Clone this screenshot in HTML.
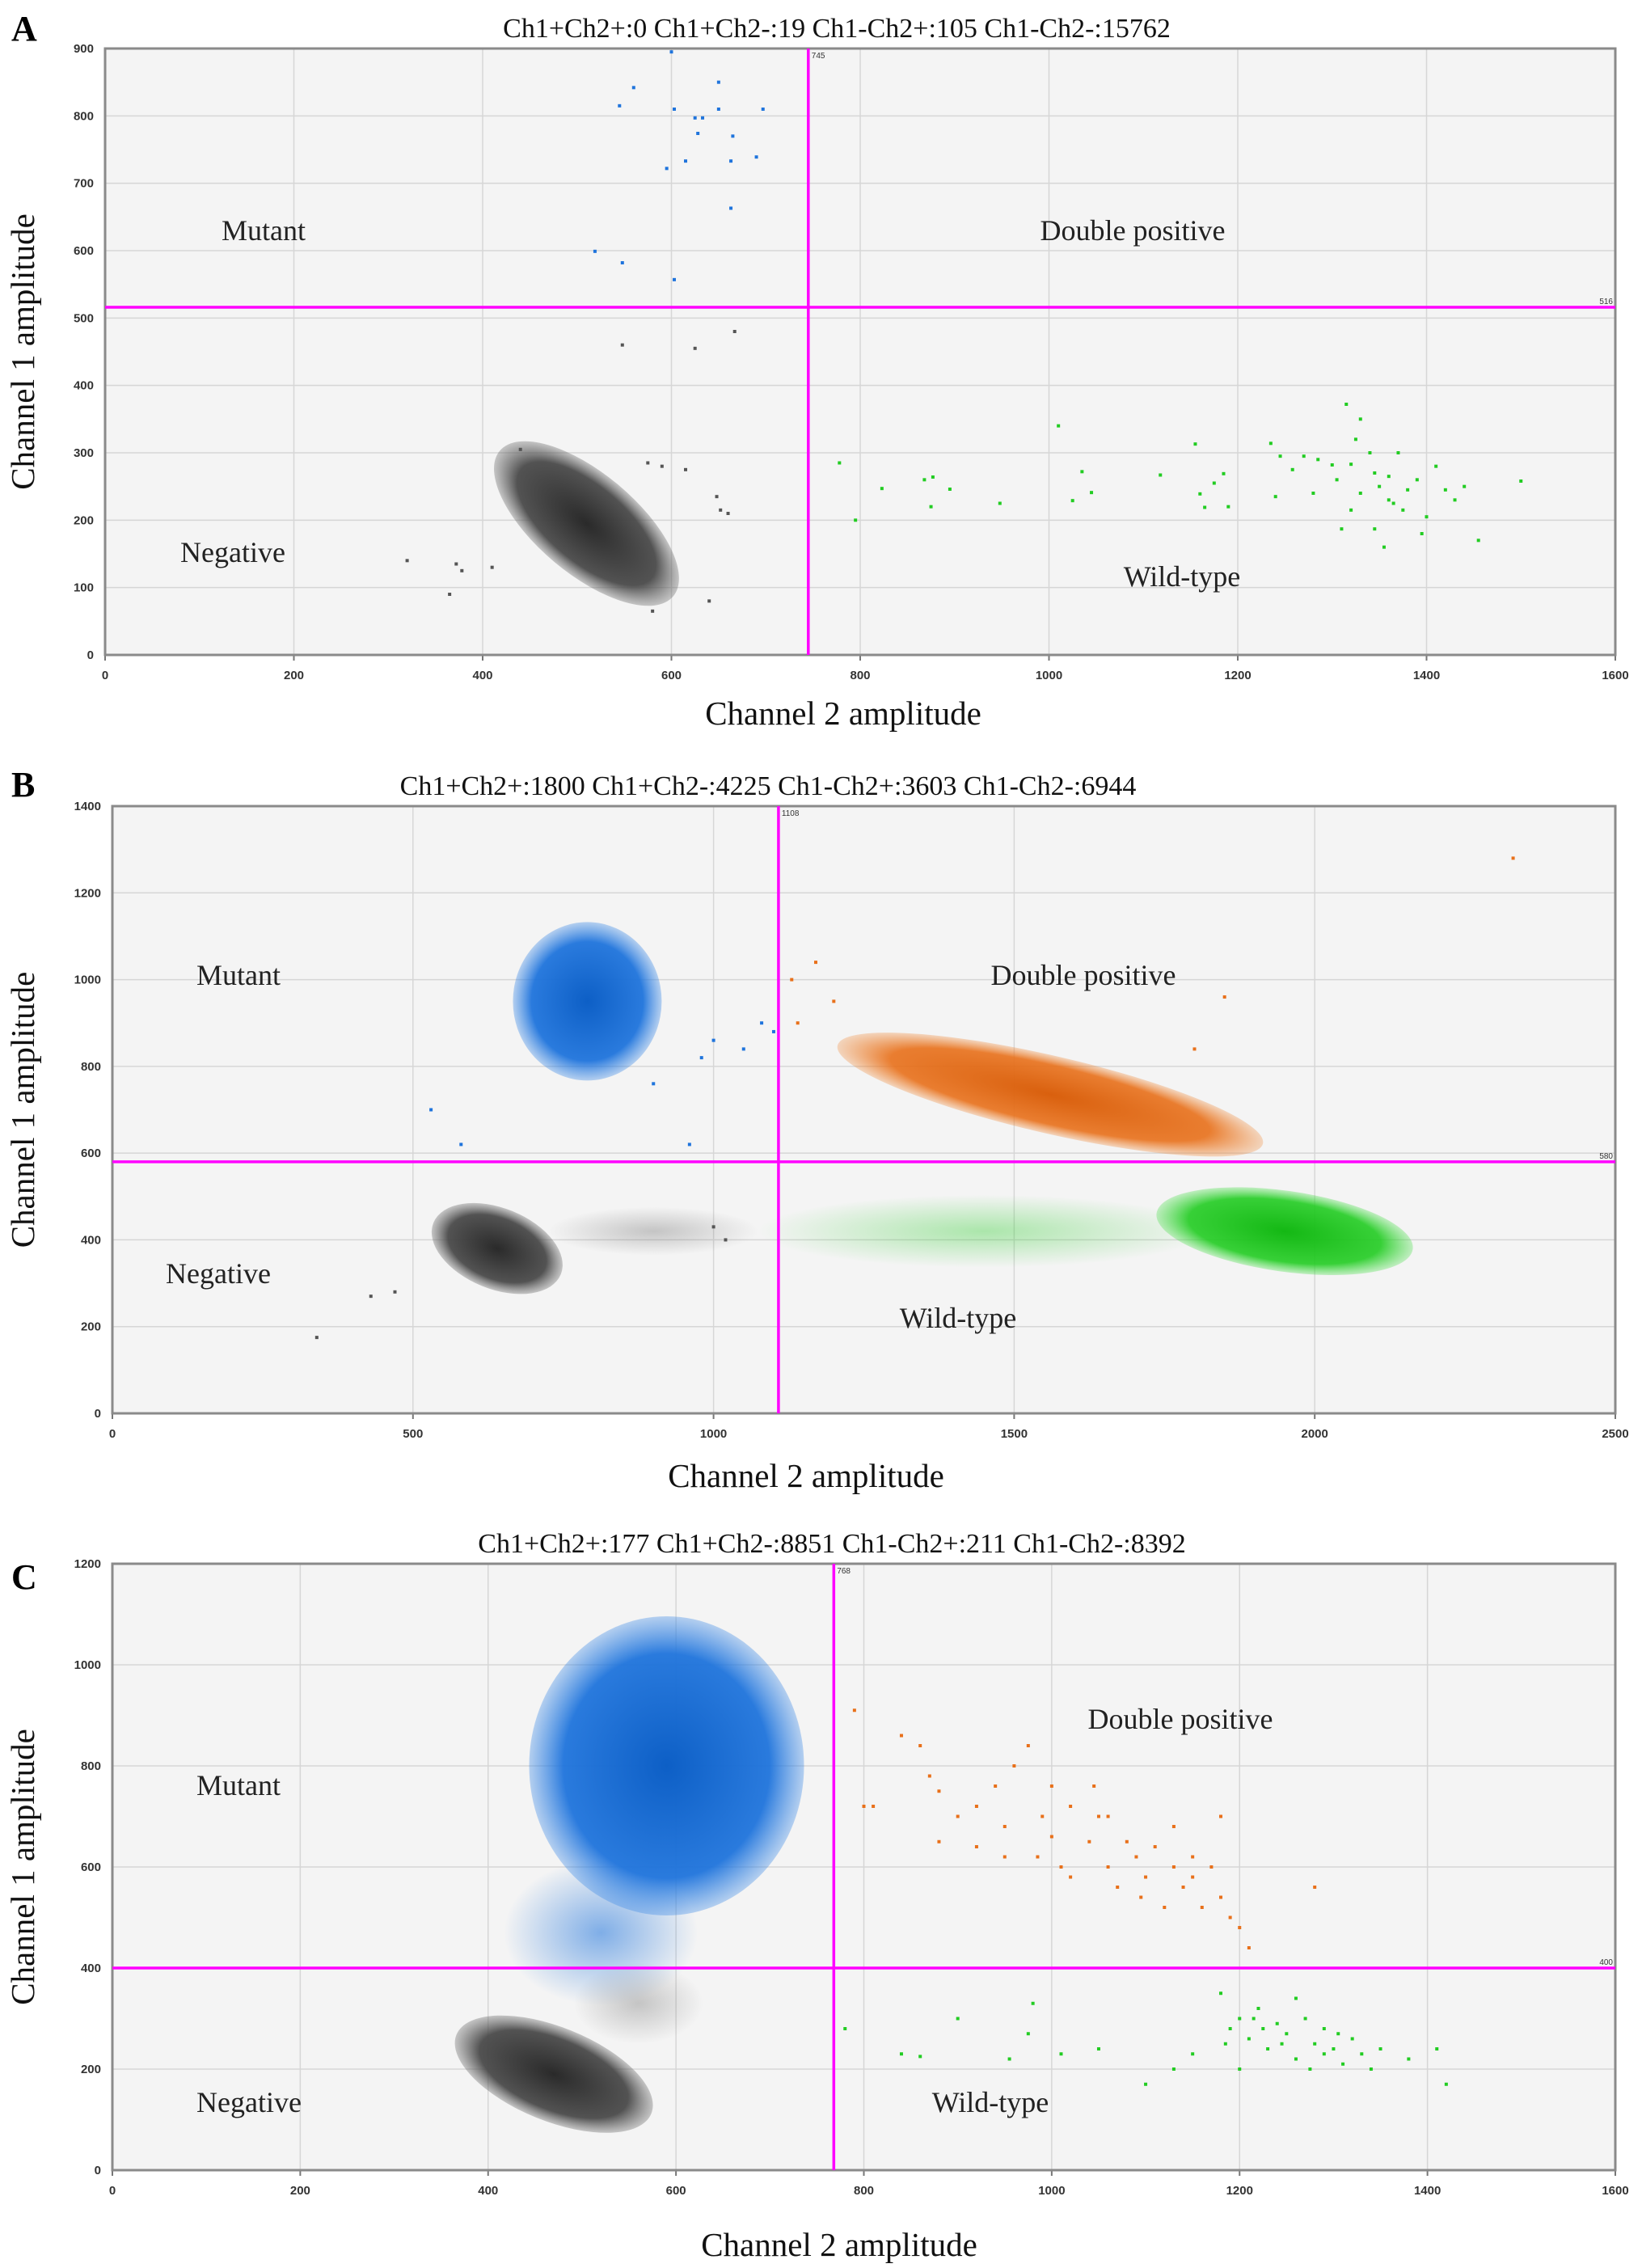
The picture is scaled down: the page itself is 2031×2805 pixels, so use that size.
<!DOCTYPE html>
<html><head><meta charset="utf-8"><style>
html,body{margin:0;padding:0;background:#fff}
svg{display:block}
</style></head><body>
<svg id="fig" width="2031" height="2805" viewBox="0 0 2031 2805" xmlns="http://www.w3.org/2000/svg">
<defs>
<radialGradient id="g-gray"><stop offset="0" stop-color="#2a2a2a" stop-opacity="1"/><stop offset="0.75" stop-color="#4a4a4a" stop-opacity="0.95"/><stop offset="1" stop-color="#6a6a6a" stop-opacity="0.35"/></radialGradient>
<radialGradient id="g-blue"><stop offset="0" stop-color="#0d5fc6" stop-opacity="1"/><stop offset="0.75" stop-color="#1f74dc" stop-opacity="0.95"/><stop offset="1" stop-color="#3a88e6" stop-opacity="0.35"/></radialGradient>
<radialGradient id="g-orange"><stop offset="0" stop-color="#d9600e" stop-opacity="1"/><stop offset="0.75" stop-color="#e8701a" stop-opacity="0.9"/><stop offset="1" stop-color="#f08a3a" stop-opacity="0.3"/></radialGradient>
<radialGradient id="g-green"><stop offset="0" stop-color="#14b814" stop-opacity="1"/><stop offset="0.75" stop-color="#22cc22" stop-opacity="0.9"/><stop offset="1" stop-color="#44dd44" stop-opacity="0.3"/></radialGradient>
<radialGradient id="g-green-lite"><stop offset="0" stop-color="#22cc22" stop-opacity="0.35"/><stop offset="1" stop-color="#22cc22" stop-opacity="0"/></radialGradient>
<radialGradient id="g-gray-lite"><stop offset="0" stop-color="#555" stop-opacity="0.3"/><stop offset="1" stop-color="#555" stop-opacity="0"/></radialGradient>
<radialGradient id="g-blue-lite"><stop offset="0" stop-color="#1f74dc" stop-opacity="0.55"/><stop offset="1" stop-color="#1f74dc" stop-opacity="0"/></radialGradient>
</defs>
</svg>
<script>
// ---------- Panel A data ----------
const aXTicks = [0,200,400,600,800,1000,1200,1400,1600];
const aYTicks = [0,100,200,300,400,500,600,700,800,900];
const aThreshX = 745;
const aThreshY = 516;
const aClusterX = [510];
const aClusterY = [195];
const aBlueX = [600,560,545,650,603,650,697,625,633,628,665,615,663,690,595,663,519,548,603];
const aBlueY = [895,842,815,850,810,810,810,797,797,774,770,733,733,739,722,663,599,582,557];
const aGrayX = [548,625,667,320,372,365,378,410,440,575,590,615,648,652,660,580,640];
const aGrayY = [460,455,480,140,135,90,125,130,305,285,280,275,235,215,210,65,80];
const aGreenX = [778,795,823,868,877,895,875,948,1010,1035,1045,1025,1118,1155,1185,1175,1160,1165,1190,1235,1240,1245,1258,1270,1285,1300,1315,1320,1325,1330,1340,1345,1350,1360,1365,1370,1380,1390,1400,1410,1420,1430,1440,1455,1500,1310,1345,1355,1395,1305,1330,1360,1280,1320,1375];
const aGreenY = [285,200,247,260,264,246,220,225,340,272,241,229,267,313,269,255,239,219,220,314,235,295,275,295,290,282,372,283,320,350,300,270,250,230,225,300,245,260,205,280,245,230,250,170,258,187,187,160,180,260,240,265,240,215,215];

// ---------- Panel B data ----------
const bXTicks = [0,500,1000,1500,2000,2500];
const bYTicks = [0,200,400,600,800,1000,1200,1400];
const bThreshX = 1108;
const bThreshY = 580;
const bClusterX = [790,640,1560,1950,1450,900];
const bClusterY = [950,380,735,420,420,420];
const bPtsX = [2330,1170,1850,1800,1200,1130,1140,530,580,340,430,470,1000,1050,1080,1100,980,1000,1020,900,960];
const bPtsY = [1280,1040,960,840,950,1000,900,700,620,175,270,280,860,840,900,880,820,430,400,760,620];
const bPtsC = ['o','o','o','o','o','o','o','b','b','k','k','k','b','b','b','b','b','k','k','b','b'];

// ---------- Panel C data ----------
const cXTicks = [0,200,400,600,800,1000,1200,1400,1600];
const cYTicks = [0,200,400,600,800,1000,1200];
const cThreshX = 768;
const cThreshY = 400;
const cClusterX = [590,470,520,560];
const cClusterY = [800,190,470,330];
const cOrangeX = [790,800,810,840,860,870,880,900,920,940,950,960,975,990,1000,1020,1040,1050,1060,1080,1090,1100,1110,1130,1140,1150,1160,1170,1180,1190,1200,1210,1070,1020,950,1120,1180,1000,1060,1130,1280,880,920,1010,1150,1095,1045,985];
const cOrangeY = [910,720,720,860,840,780,750,700,720,760,680,800,840,700,660,720,650,700,600,650,620,580,640,600,560,620,520,600,540,500,480,440,560,580,620,520,700,760,700,680,560,650,640,600,580,540,760,620];
const cGreenX = [780,840,860,900,955,975,980,1010,1050,1100,1130,1150,1180,1190,1200,1210,1220,1230,1240,1250,1260,1270,1280,1290,1300,1310,1320,1330,1340,1350,1380,1420,1410,1200,1225,1260,1290,1215,1245,1275,1305,1185];
const cGreenY = [280,230,225,300,220,270,330,230,240,170,200,230,350,280,300,260,320,240,290,270,220,300,250,230,240,210,260,230,200,240,220,170,240,200,280,340,280,300,250,200,270,250];

// ---------- drawing ----------
const NS = 'http://www.w3.org/2000/svg';
const svg = document.getElementById('fig');
const COL = {k:'#555', b:'#1f74dc', o:'#e8701a', g:'#22cc22'};
function mk(tag, attrs, parent){ const e=document.createElementNS(NS,tag); for(const k in attrs) e.setAttribute(k,attrs[k]); (parent||svg).appendChild(e); return e; }
function txt(s, attrs, parent){ const e=mk('text',attrs,parent); e.textContent=s; return e; }

function panel(p){
  const g = mk('g',{});
  
  
  const L=p.L,R=p.R,T=p.T,B=p.B;
  const sx = v => L + (v - p.xMin)/(p.xMax - p.xMin)*(R-L);
  const sy = v => B - (v - p.yMin)/(p.yMax - p.yMin)*(B-T);
  const bg = mk('rect',{x:L,y:T,width:R-L,height:B-T,fill:'#f4f4f4'},g);
  
  
  p.xTicks.forEach(v=>{
    mk('line',{x1:sx(v),x2:sx(v),y1:T,y2:B,stroke:'#d6d6d6','stroke-width':1.5},g);
    mk('line',{x1:sx(v),x2:sx(v),y1:B,y2:B+7,stroke:'#777','stroke-width':2},g);
    const t=txt(String(v),{x:sx(v),y:B+30,'font-family':'"Liberation Sans",sans-serif','font-size':15,'font-weight':'bold','fill':'#333','text-anchor':'middle'},g);
    
    
  });
  p.yTicks.forEach(v=>{
    mk('line',{x1:L,x2:R,y1:sy(v),y2:sy(v),stroke:'#d6d6d6','stroke-width':1.5},g);
    const t=txt(String(v),{x:L-14,y:sy(v)+5,'font-family':'"Liberation Sans",sans-serif','font-size':15,'font-weight':'bold','fill':'#333','text-anchor':'end'},g);
    
    
  });
  p.clusters.forEach((c,i)=>{
    const cx=sx(c.x), cy=sy(c.y);
    const e=mk('ellipse',{cx:cx,cy:cy,rx:c.rx,ry:c.ry,fill:'url(#'+c.grad+')',transform:'rotate('+c.rot+' '+cx+' '+cy+')'},g);
    
    
  });
  p.points.forEach(pt=>{
    const r=mk('rect',{x:sx(pt.x)-2,y:sy(pt.y)-2,width:4,height:4,fill:COL[pt.c]},g);
    
    
  });
  mk('rect',{x:L,y:T,width:R-L,height:B-T,fill:'none',stroke:'#8a8a8a','stroke-width':3},g);
  const tv=mk('line',{x1:sx(p.tx),x2:sx(p.tx),y1:T,y2:B,stroke:'#ff00ff','stroke-width':3.5},g);
  
  
  const th=mk('line',{x1:L,x2:R,y1:sy(p.ty),y2:sy(p.ty),stroke:'#ff00ff','stroke-width':3.5},g);
  
  
  txt(String(p.tx),{x:sx(p.tx)+4,y:T+12,'font-family':'"Liberation Sans",sans-serif','font-size':10,fill:'#333'},g);
  txt(String(p.ty),{x:R-3,y:sy(p.ty)-4,'font-family':'"Liberation Sans",sans-serif','font-size':10,fill:'#333','text-anchor':'end'},g);
  const ti=txt(p.title,{x:p.titleX,y:T-14,'font-family':'"Liberation Serif",serif','font-size':34,'text-anchor':'middle',fill:'#111'},g);
  
  
  const le=txt(p.id,{x:14,y:p.letterY,'font-family':'"Liberation Serif",serif','font-size':44,'font-weight':'bold',fill:'#000'},g);
  
  
  const yt=txt('Channel 1  amplitude',{x:0,y:0,'font-family':'"Liberation Serif",serif','font-size':41,'text-anchor':'middle',fill:'#111',transform:'translate(42 '+((T+B)/2)+') rotate(-90)'},g);
  
  
  const xt=txt('Channel 2 amplitude',{x:p.xTitleX,y:p.xTitleY,'font-family':'"Liberation Serif",serif','font-size':41,'text-anchor':'middle',fill:'#111'},g);
  
  
  p.labels.forEach(l=>{
    const q=txt(l.s,{x:l.x,y:l.y,'font-family':'"Liberation Serif",serif','font-size':36,'text-anchor':'middle',fill:'#222'},g);
    
    
  });
}

function pts(xs, ys, cs){ return xs.map((x,i)=>({x:x, y:ys[i], c:(typeof cs==='string')?cs:cs[i]})); }

panel({id:'A', L:130,R:1998,T:60,B:810, xMin:0,xMax:1600,yMin:0,yMax:900,
  xTicks:aXTicks, yTicks:aYTicks, tx:aThreshX, ty:aThreshY,
  title:'Ch1+Ch2+:0  Ch1+Ch2-:19  Ch1-Ch2+:105  Ch1-Ch2-:15762', titleX:1035, letterY:50,
  xTitleX:1043, xTitleY:896,
  clusters:[{x:aClusterX[0],y:aClusterY[0],rx:140,ry:62,rot:40,grad:'g-gray'}],
  points:[].concat(pts(aBlueX,aBlueY,'b'),pts(aGrayX,aGrayY,'k'),pts(aGreenX,aGreenY,'g')),
  labels:[{s:'Mutant',x:326,y:297},{s:'Double positive',x:1401,y:297},{s:'Negative',x:288,y:695},{s:'Wild-type',x:1462,y:725}]
});
panel({id:'B', L:139,R:1998,T:997,B:1748, xMin:0,xMax:2500,yMin:0,yMax:1400,
  xTicks:bXTicks, yTicks:bYTicks, tx:bThreshX, ty:bThreshY,
  title:'Ch1+Ch2+:1800  Ch1+Ch2-:4225  Ch1-Ch2+:3603  Ch1-Ch2-:6944', titleX:950, letterY:985,
  xTitleX:997, xTitleY:1839,
  clusters:[
    {x:bClusterX[5],y:bClusterY[5],rx:130,ry:30,rot:0,grad:'g-gray-lite'},
    {x:bClusterX[4],y:bClusterY[4],rx:280,ry:45,rot:0,grad:'g-green-lite'},
    {x:bClusterX[0],y:bClusterY[0],rx:92,ry:98,rot:0,grad:'g-blue'},
    {x:bClusterX[1],y:bClusterY[1],rx:85,ry:50,rot:22,grad:'g-gray'},
    {x:bClusterX[2],y:bClusterY[2],rx:270,ry:48,rot:13,grad:'g-orange'},
    {x:bClusterX[3],y:bClusterY[3],rx:160,ry:50,rot:8,grad:'g-green'}],
  points:pts(bPtsX,bPtsY,bPtsC),
  labels:[{s:'Mutant',x:295,y:1218},{s:'Double positive',x:1340,y:1218},{s:'Negative',x:270,y:1587},{s:'Wild-type',x:1185,y:1642}]
});
panel({id:'C', L:139,R:1998,T:1934,B:2684, xMin:0,xMax:1600,yMin:0,yMax:1200,
  xTicks:cXTicks, yTicks:cYTicks, tx:cThreshX, ty:cThreshY,
  title:'Ch1+Ch2+:177  Ch1+Ch2-:8851  Ch1-Ch2+:211  Ch1-Ch2-:8392', titleX:1029, letterY:1965,
  xTitleX:1038, xTitleY:2790,
  clusters:[
    {x:cClusterX[2],y:cClusterY[2],rx:120,ry:90,rot:0,grad:'g-blue-lite'},
    {x:cClusterX[3],y:cClusterY[3],rx:80,ry:50,rot:0,grad:'g-gray-lite'},
    {x:cClusterX[0],y:cClusterY[0],rx:170,ry:185,rot:0,grad:'g-blue'},
    {x:cClusterX[1],y:cClusterY[1],rx:130,ry:58,rot:22,grad:'g-gray'}],
  points:[].concat(pts(cOrangeX,cOrangeY,'o'),pts(cGreenX,cGreenY,'g')),
  labels:[{s:'Mutant',x:295,y:2220},{s:'Double positive',x:1460,y:2138},{s:'Negative',x:308,y:2612},{s:'Wild-type',x:1225,y:2612}]
});
</script>
</body></html>
